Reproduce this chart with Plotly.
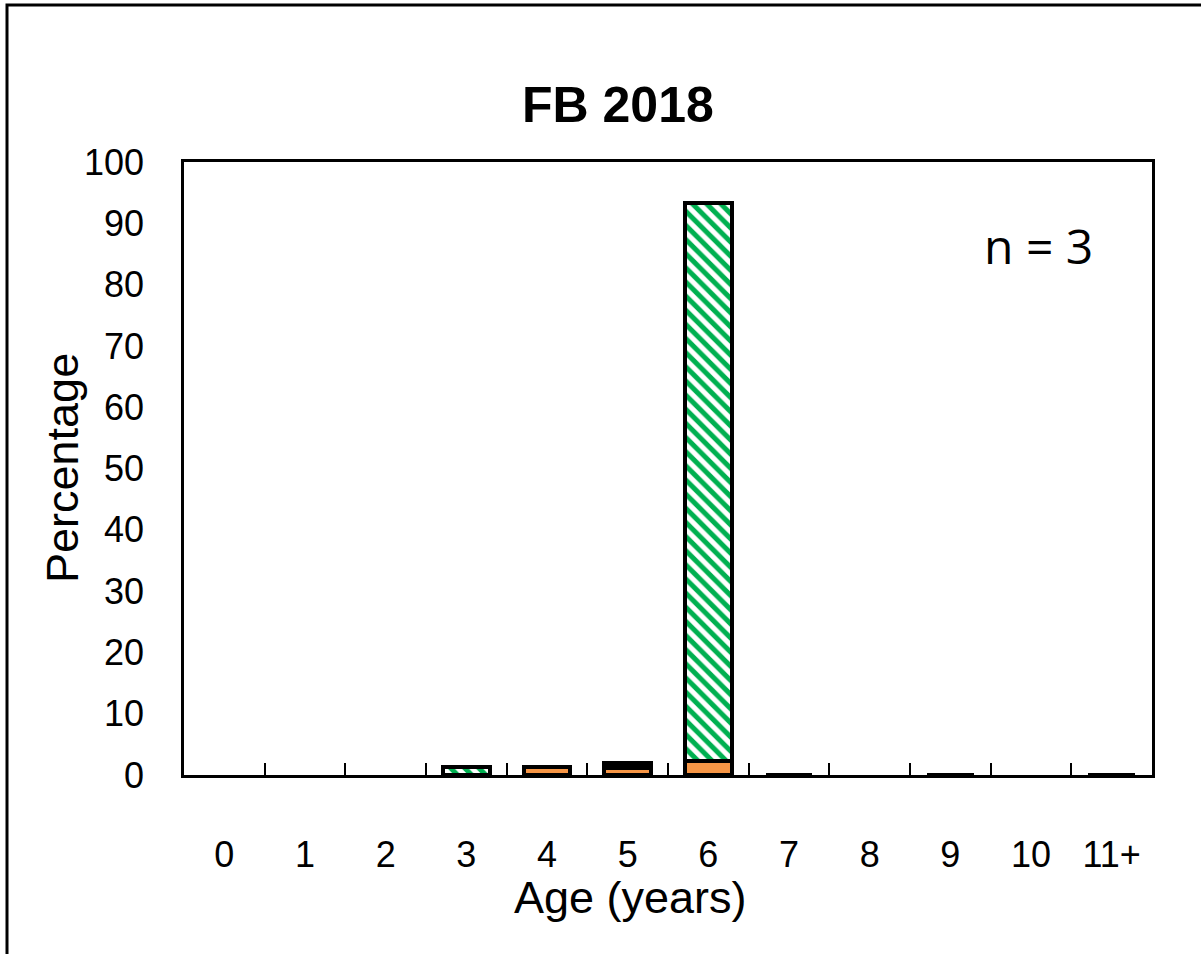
import plotly.graph_objects as go

# Age classes and percentage composition for FB 2018
ages = ["0", "1", "2", "3", "4", "5", "6", "7", "8", "9", "10", "11+"]
orange_pct = [None, None, None, None, 1.3, 1.2, 2.3, 0, None, 0, None, 0]
black_pct = [None, None, None, None, None, 0.8, None, None, None, None, None, None]
green_pct = [None, None, None, 1.3, None, None, 91.0, None, None, None, None, None]
n_fish = 3

W, H = 1201, 954
L, R, T, B = 184, 49, 162, 179
pw, ph = W - L - R, H - T - B

FONT = "Liberation Sans, Arial, sans-serif"
OUTLINE = dict(color="black", width=4)

fig = go.Figure()
fig.add_trace(go.Bar(x=ages, y=orange_pct, marker=dict(color="#F79646", line=OUTLINE),
                     cliponaxis=False))
fig.add_trace(go.Bar(x=ages, y=black_pct, marker=dict(color="black", line=OUTLINE),
                     cliponaxis=False))
fig.add_trace(go.Bar(x=ages, y=green_pct,
                     marker=dict(color="white", line=OUTLINE,
                                 pattern=dict(shape="\\", fgcolor="#00B050", bgcolor="white",
                                              size=10, solidity=0.5, fillmode="replace")),
                     cliponaxis=False))


def px_x(x):
    return (x - L) / pw


def px_y(y):
    return (H - B - y) / ph


fig.update_layout(
    width=W, height=H,
    margin=dict(l=L, r=R, t=T, b=B),
    barmode="stack", bargap=0.42, showlegend=False,
    plot_bgcolor="white", paper_bgcolor="white",
    font=dict(family=FONT, color="black", size=36),
    xaxis=dict(type="category", showline=True, linecolor="black", linewidth=2.5, mirror=True,
               ticks="inside", tickson="boundaries", ticklen=12, tickwidth=2, tickcolor="black",
               showgrid=False, tickfont=dict(size=36), ticklabelstandoff=46),
    yaxis=dict(range=[0, 100], dtick=10, showline=True, linecolor="black", linewidth=2.5,
               mirror=True, ticks="", showgrid=False, zeroline=False,
               tickfont=dict(size=36), ticklabelstandoff=30),
    shapes=[dict(type="rect", xref="paper", yref="paper",
                 x0=px_x(7), x1=px_x(W + 6), y0=px_y(H + 6), y1=px_y(5),
                 line=dict(color="black", width=3), fillcolor="rgba(0,0,0,0)", layer="below")],
    annotations=[
        dict(text="<b>FB 2018</b>", xref="paper", yref="paper", x=px_x(618), y=px_y(105),
             showarrow=False, font=dict(size=50), xanchor="center", yanchor="middle"),
        dict(text=f"n = {n_fish}", xref="paper", yref="paper", x=px_x(1038), y=px_y(245),
             showarrow=False, font=dict(size=48, family="Open Sans, sans-serif"),
             xanchor="center", yanchor="middle"),
        dict(text="Age (years)", xref="paper", yref="paper", x=px_x(630), y=px_y(897),
             showarrow=False, font=dict(size=45), xanchor="center", yanchor="middle"),
        dict(text="Percentage", xref="paper", yref="paper", x=px_x(62), y=px_y(468),
             showarrow=False, font=dict(size=45), textangle=-90,
             xanchor="center", yanchor="middle"),
    ],
)

fig.write_html("out.html")
